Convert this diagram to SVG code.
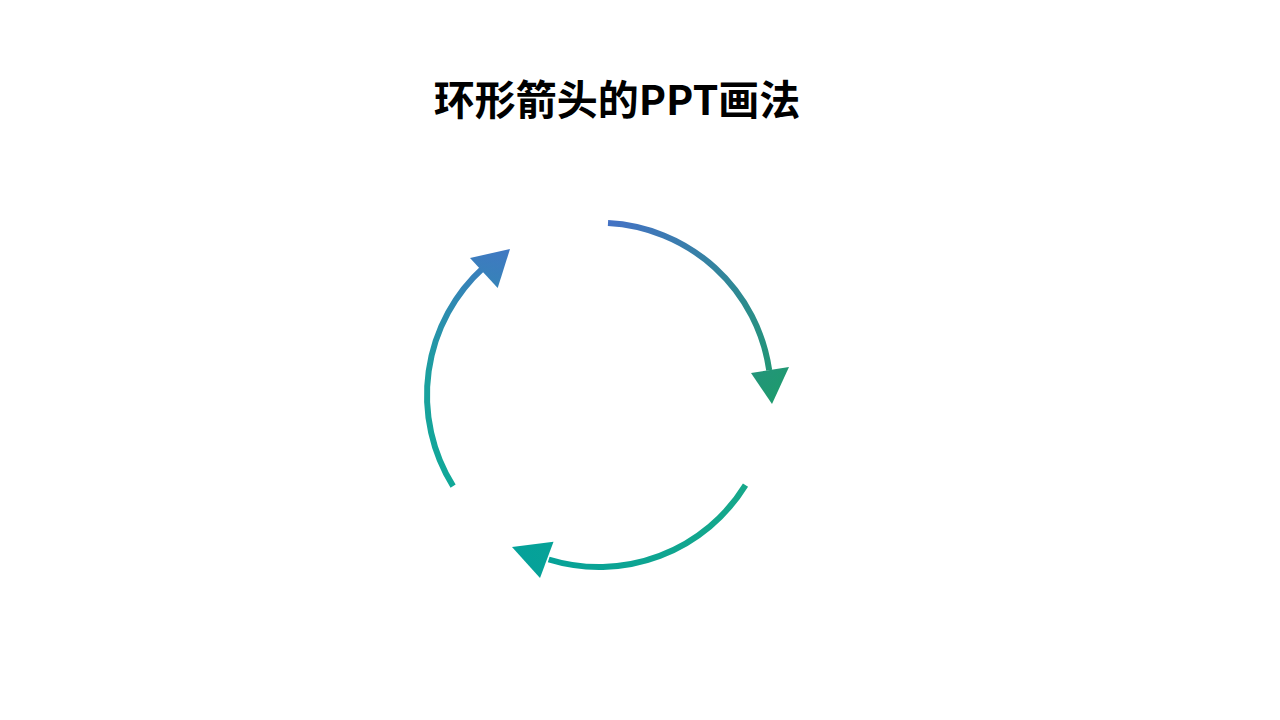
<svg xmlns="http://www.w3.org/2000/svg" width="1280" height="720" viewBox="0 0 1280 720">
<defs>
<linearGradient id="g1" gradientUnits="userSpaceOnUse" x1="608" y1="223" x2="771" y2="402"><stop offset="0" stop-color="#4472C4"/><stop offset="1" stop-color="#1E9A6E"/></linearGradient>
<linearGradient id="g2" gradientUnits="userSpaceOnUse" x1="747" y1="486" x2="512" y2="547"><stop offset="0" stop-color="#16A88A"/><stop offset="1" stop-color="#04A19A"/></linearGradient>
<linearGradient id="g3" gradientUnits="userSpaceOnUse" x1="453" y1="486" x2="510" y2="250"><stop offset="0" stop-color="#10A898"/><stop offset="0.4" stop-color="#1AA09E"/><stop offset="1" stop-color="#4078C2"/></linearGradient>
</defs>
<style>.a{fill:none;stroke-width:6}</style>
<rect width="1280" height="720" fill="#fff"/>
<text x="617" y="115" text-anchor="middle" font-family="'Noto Sans CJK SC','Noto Sans',sans-serif" font-weight="bold" font-size="41" fill="#000">环形箭头的PPT画法</text>
<g id="connectors">
<g id="arc1"><path class="a" stroke="url(#g1)" d="M608,223 A172,172 0 0 1 769.2,370.2"/><polygon fill="url(#g1)" points="789,367 751,373 772,404"/></g>
<g id="arc2"><path class="a" stroke="url(#g2)" d="M745.5,485.1 A172,172 0 0 1 548.7,559.5"/><polygon fill="url(#g2)" points="540,578 553.5,541.8 512,547"/></g>
<g id="arc3"><path class="a" stroke="url(#g3)" d="M453.1,486.1 A172,172 0 0 1 483.9,267.2"/><polygon fill="url(#g3)" points="470,258 497.7,288 510,249"/></g>
</g>
</svg>
